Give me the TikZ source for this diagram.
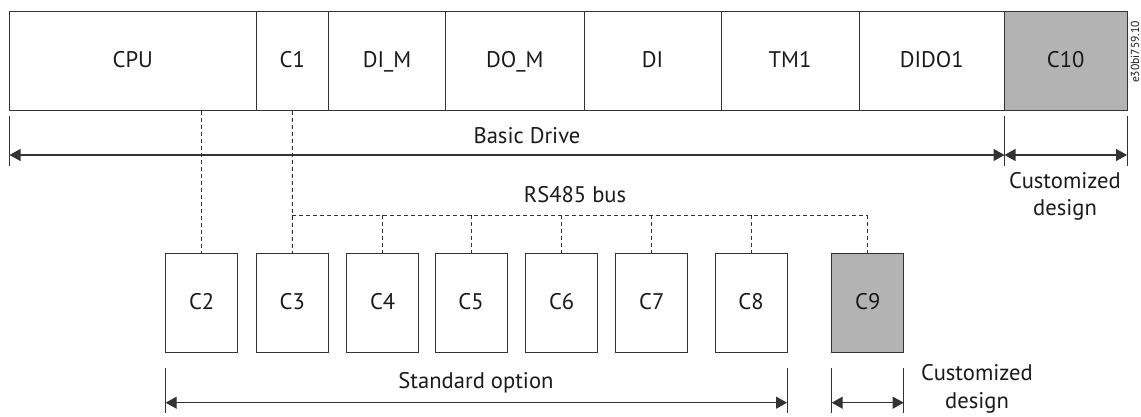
\documentclass[tikz,border=0pt]{standalone}
\usepackage{fontspec}
\setmainfont{PT Sans}
\usetikzlibrary{arrows.meta, positioning}
\definecolor{cline}{HTML}{333333}
\definecolor{cfill}{HTML}{B3B3B3}
\definecolor{ctext}{HTML}{1A1A1A}
\tikzset{
  every picture/.style={font=\fontsize{11.3}{13.8}\selectfont, line width=0.5pt},
  unit/.style={draw=cline, fill=#1, inner sep=0pt, outer sep=0pt, text=ctext, text height=1.6ex, text depth=0.3ex},
  unit/.default=white,
  bus/.style={draw=cline, dash pattern=on 2pt off 1.5pt},
  dimline/.style={{Triangle[length=5.5pt, width=6pt]}-{Triangle[length=5.5pt, width=6pt]}, draw=cline, line width=0.65pt},
  tick/.style={draw=cline, line width=0.5pt},
  note/.style={align=center, text=ctext},
}

\begin{document}
\begin{tikzpicture}[x=0.5pt, y=-0.5pt]
  \useasboundingbox (0,0) rectangle (1141,417);
  % basic drive row
  \foreach \n/\t/\l/\r/\f in {cpu/CPU/9.5/256/white, c1/C1/256/328.7/white, dim/DI\_M/328.7/445.5/white,
      dom/DO\_M/445.5/584/white, di/DI/584/721/white, tm1/TM1/721/859/white,
      dido1/DIDO1/859/1004.5/white, c10/C10/1004.5/1127/cfill}
    \node[unit=\f, minimum width={(\r-\l)*0.5pt}, minimum height=49.65pt] (\n) at ({(\l+\r)/2}, 61.3) {\t};
  \node[font=\fontsize{5.8}{7}\selectfont, rotate=90, text=ctext, inner sep=0pt] (docid) at (1135,52) {e30bi759.10};
  % option cards
  \foreach \i/\x in {2/201.7, 3/292.3, 4/382.7, 5/471, 6/561.7, 7/651.7, 8/751}
    \node[unit, minimum width=36pt, minimum height=49.5pt] (c\i) at (\x, 302.8) {C\i};
  \node[unit=cfill, minimum width=36pt, minimum height=49.5pt] (c9) at (867.7, 302.8) {C9};
  % RS485 bus
  \coordinate (busy) at (0,215);
  \draw[bus] (c2.north |- cpu.south) -- (c2.north);
  \draw[bus] (c1.south) -- (c3.north);
  \draw[bus] (c3.north |- busy) -- (c9.north |- busy);
  \foreach \i in {4,...,9} \draw[bus] (c\i.north |- busy) -- (c\i.north);
  \node[text=ctext] (rs) at (575,195) {RS485 bus};
  % dimensions
  \coordinate (bd) at (0,155);
  \coordinate (so) at (0,402.7);
  \foreach \a in {cpu.south west, c10.south west, c10.south east}
    \draw[tick] ([yshift=-2.5pt]\a) -- ++(0,50);
  \foreach \a in {c2.south west, c8.south east, c9.south west, c9.south east}
    \draw[tick] ([yshift=-7.85pt]\a) -- ++(0,45);
  \draw[dimline] (cpu.south west |- bd) -- (c10.south west |- bd);
  \draw[dimline] (c10.south west |- bd) -- (c10.south east |- bd);
  \draw[dimline] (c2.south west |- so) -- (c8.south east |- so);
  \draw[dimline] (c9.south west |- so) -- (c9.south east |- so);
  \node[text=ctext] (basic) at (527,136) {Basic Drive};
  \node[text=ctext] (std) at (476,383) {Standard option};
  \node[note] (cust1) at (1065,196.5) {Customized\\design};
  \node[note] (cust2) at (977,389) {Customized\\design};
\end{tikzpicture}
\end{document}
